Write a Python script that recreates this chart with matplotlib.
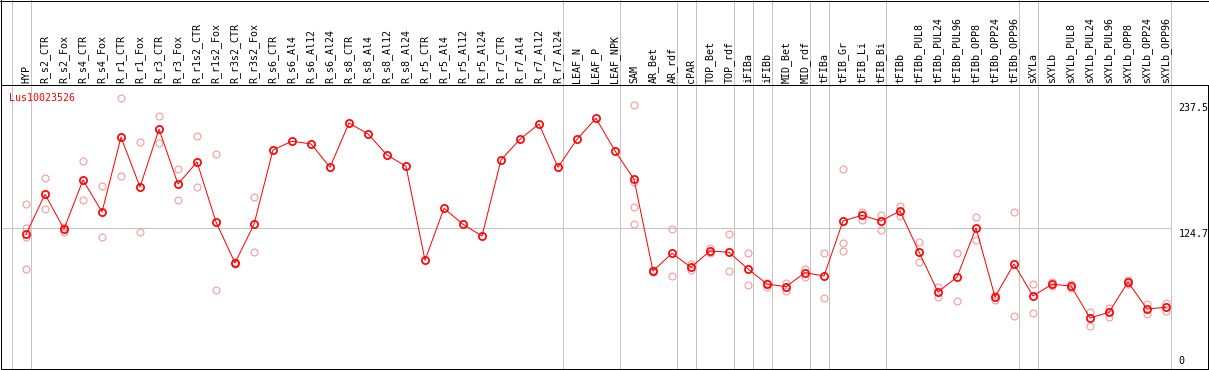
import matplotlib
matplotlib.use('Agg')
import matplotlib.pyplot as plt
from matplotlib.lines import Line2D

gene = 'Lus10023526'

labels = ['HYP', 'R_s2_CTR', 'R_s2_Fox', 'R_s4_CTR', 'R_s4_Fox', 'R_r1_CTR', 'R_r1_Fox',
          'R_r3_CTR', 'R_r3_Fox', 'R_r1s2_CTR', 'R_r1s2_Fox', 'R_r3s2_CTR', 'R_r3s2_Fox',
          'R_s6_CTR', 'R_s6_Al4', 'R_s6_Al12', 'R_s6_Al24', 'R_s8_CTR', 'R_s8_Al4',
          'R_s8_Al12', 'R_s8_Al24', 'R_r5_CTR', 'R_r5_Al4', 'R_r5_Al12', 'R_r5_Al24',
          'R_r7_CTR', 'R_r7_Al4', 'R_r7_Al12', 'R_r7_Al24', 'LEAF_N', 'LEAF_P', 'LEAF_NPK',
          'SAM', 'AR_Bet', 'AR_rdf', 'cPAR', 'TOP_Bet', 'TOP_rdf', 'iFIBa', 'iFIBb',
          'MID_Bet', 'MID_rdf', 'tFIBa', 'tFIB_Gr', 'tFIB_Li', 'tFIB_Bi', 'tFIBb',
          'tFIBb_PUL8', 'tFIBb_PUL24', 'tFIBb_PUL96', 'tFIBb_OPP8', 'tFIBb_OPP24',
          'tFIBb_OPP96', 'sXYLa', 'sXYLb', 'sXYLb_PUL8', 'sXYLb_PUL24', 'sXYLb_PUL96',
          'sXYLb_OPP8', 'sXYLb_OPP24', 'sXYLb_OPP96']

means = [119.3, 155.2, 124.0, 168.0, 139.3, 206.4, 161.7, 213.6, 164.4, 184.2, 130.3,
         93.5, 128.2, 195.0, 202.8, 200.4, 179.4, 219.2, 209.3, 190.5, 180.3, 95.9,
         142.6, 128.2, 117.7, 186.0, 204.6, 218.3, 179.4, 204.6, 223.4, 194.1, 168.7,
         86.3, 102.2, 89.6, 104.3, 103.1, 88.1, 74.6, 72.2, 84.8, 81.8, 131.2, 136.3,
         131.2, 140.2, 103.4, 67.4, 80.9, 124.9, 63.0, 92.6, 63.9, 74.4, 72.8, 44.1,
         49.2, 76.4, 52.2, 53.7]

# replicate values for each sample (empty where they sit under the mean)
reps = [[146.2, 125.2, 117.1, 88.1], [169.6, 141.7], [126.1, 121.6], [184.8, 149.8],
        [162.4, 116.6], [241.4, 171.4], [201.9, 121.1], [225.5, 201.0], [177.9, 149.8],
        [207.3, 161.5], [191.1, 69.0], [92.5, 94.5], [152.8, 103.1],
        [], [], [], [], [], [], [], [], [], [], [], [], [], [], [], [], [], [], [],
        [235.1, 166.2, 143.5, 128.2], [85.0, 87.5], [123.8, 81.5], [92.6, 87.2],
        [106.7, 102.5], [119.5, 86.0], [102.5, 73.5], [75.8, 72.2], [75.3, 68.6],
        [88.4, 81.2], [102.5, 61.8], [177.9, 111.5, 104.0], [139.3, 131.8],
        [136.6, 122.9], [144.4, 135.4], [112.1, 94.4], [71.7, 62.7], [102.5, 59.4],
        [134.5, 113.9], [64.5, 60.3], [139.3, 45.6], [74.4, 48.3], [76.4, 72.8],
        [74.6, 70.8], [49.2, 37.2], [52.8, 45.3], [78.0, 74.6], [56.4, 47.7],
        [57.3, 50.1]]

# last sample index of each group (a grey line follows it)
group_ends = [-1, 0, 28, 31, 34, 35, 37, 38, 39, 41, 42, 45, 52, 53, 60]
ytick_vals = [0, 124.7, 237.5]
mid_line = 124.7

FONT = 'DejaVu Sans Mono'
FS = 7.2
GREY = '#c4c4c4'
px = 0.72  # one pixel in points at dpi 100

W, H = 1209, 370
fig = plt.figure(figsize=(W / 100, H / 100), dpi=100)
ax = fig.add_axes([1 / W, 1 / H, 1207 / W, 284 / H])
ax.set_xlim(-1.316, 62.21)
ax.set_ylim(-1.7, 253.3)
ax.set_xticks([])
ax.set_yticks([])
for s in ax.spines.values():
    s.set_linewidth(px)
    s.set_color('black')

for g in group_ends:
    ax.axvline(g + 0.237, 0, 1 + 85 / 284, color=GREY, lw=px, clip_on=False, zorder=1)
ax.hlines(mid_line, -1.316, 60.237, color=GREY, lw=px, zorder=1)

xs = list(range(len(labels)))
for i, r in enumerate(reps):
    if r:
        ax.plot([i] * len(r), r, linestyle='none', marker='o', ms=5.0,
                mfc='none', mec='#f29a9a', mew=1.1 * px, zorder=2)
ax.plot(xs, means, color='red', lw=px, zorder=3)
ax.plot(xs, means, linestyle='none', marker='o', ms=5.2, mfc='none', mec='red',
        mew=1.7 * px, zorder=4)

for i, lab in enumerate(labels):
    ax.annotate(lab, (i, 1), xycoords=('data', 'axes fraction'), xytext=(0, 1.5),
                textcoords='offset points', rotation=90, ha='center', va='bottom',
                fontsize=FS, family=FONT, color='black')

ax.annotate(gene, (0, 1), xycoords='axes fraction', xytext=(6, -5.5),
            textcoords='offset points', ha='left', va='top', fontsize=FS,
            family=FONT, color='red')

for v in ytick_vals:
    if v == 0:
        ax.annotate('0', (0.9755, v), xycoords=('axes fraction', 'data'), xytext=(0, 1),
                    textcoords='offset points', ha='left', va='bottom', fontsize=FS,
                    family=FONT)
    else:
        ax.annotate(f'{v}', (0.9755, v), xycoords=('axes fraction', 'data'),
                    xytext=(0, -0.5), textcoords='offset points', ha='left', va='top',
                    fontsize=FS, family=FONT)

# outer frame of the whole picture
for xx, yy in [([0.5 / W, 0.5 / W], [0, 1]), ([1 - 0.5 / W, 1 - 0.5 / W], [0, 1]),
               ([0, 1], [1 - 0.5 / H, 1 - 0.5 / H])]:
    fig.add_artist(Line2D(xx, yy, transform=fig.transFigure, color='black', lw=px))

fig.savefig('out.png', dpi=100)
